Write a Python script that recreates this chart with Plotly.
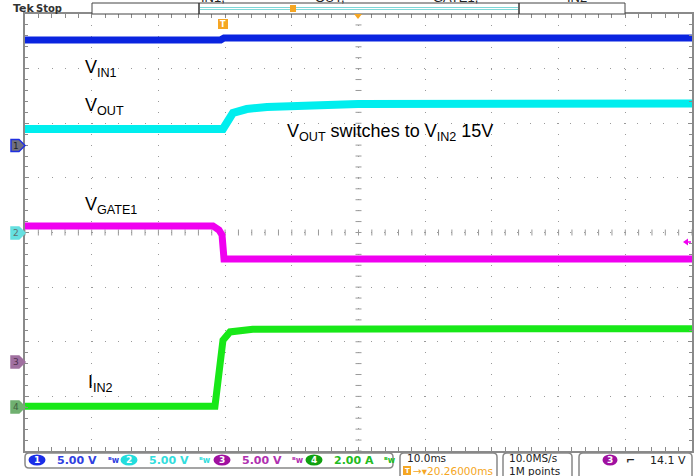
import plotly.graph_objects as go

W, H = 700, 476
PL, PR, PT, PB = 25, 692, 14, 451  # plot area in pixels

# ---------------- data (time in ms relative to trigger) ----------------
T_MIN, T_MAX = -29.74, 70.26

vin1_t = [-29.74, -0.4, 0.1, 70.26]
vin1_v = [9.63, 9.63, 9.81, 9.81]           # V, 5 V/div

vout_t = [-29.74, -0.06, 1.44, 3.5, 6.54, 13.4, 20.2, 70.26]
vout_v = [9.48, 9.48, 10.94, 11.3, 11.49, 11.68, 11.77, 11.8]   # V, 5 V/div

vgate_t = [-29.74, -1.56, -0.66, -0.2, 0.1, 70.26]
vgate_v = [12.45, 12.45, 12.08, 11.62, 9.42, 9.42]   # V, 5 V/div

iin2_t = [-29.74, -1.26, -0.06, 0.99, 4.4, 20.5, 70.26]
iin2_a = [0.04, 0.04, 2.46, 2.76, 2.86, 2.88, 2.88]  # A, 2 A/div

ch_labels = ["5.00 V", "5.00 V", "5.00 V", "2.00 A"]

# channel scale ranges (8 divisions, ground offsets of each channel)
ch1_range = [-28, 12]
ch2_range = [-20, 20]
ch3_range = [-8.15, 31.85]
ch4_range = [-1.6, 14.4]

BLUE = "#0a24e0"
CYAN = "#00eeee"
MAG = "#f000f0"
GREEN = "#18e818"
ORANGE = "#f5a623"

def fx(x):
    return (x - PL) / (PR - PL)

def fy(y):
    return (PB - y) / (PB - PT)

fig = go.Figure()
fig.add_trace(go.Scatter(x=vin1_t, y=vin1_v, yaxis="y2", mode="lines",
                         line=dict(color=BLUE, width=7), hoverinfo="skip"))
fig.add_trace(go.Scatter(x=vout_t, y=vout_v, yaxis="y", mode="lines",
                         line=dict(color=CYAN, width=8), hoverinfo="skip"))
fig.add_trace(go.Scatter(x=vgate_t, y=vgate_v, yaxis="y3", mode="lines",
                         line=dict(color=MAG, width=7), hoverinfo="skip"))
fig.add_trace(go.Scatter(x=iin2_t, y=iin2_a, yaxis="y4", mode="lines",
                         line=dict(color=GREEN, width=7), hoverinfo="skip"))

shapes = []
ann = []
GRID = "#9a9a9a"

# center crosshair ticks
xc = fx(358.5)
yc = fy(232.5)
for i in range(51):
    xp = PL + i * (PR - PL) / 50
    shapes.append(dict(type="line", xref="paper", yref="paper", layer="below",
                       x0=fx(xp), x1=fx(xp), y0=yc - 3 / 437, y1=yc + 3 / 437,
                       line=dict(color=GRID, width=1)))
for i in range(41):
    yp = PT + i * (PB - PT) / 40
    shapes.append(dict(type="line", xref="paper", yref="paper", layer="below",
                       x0=xc - 3 / 667, x1=xc + 3 / 667, y0=fy(yp), y1=fy(yp),
                       line=dict(color=GRID, width=1)))

# ---- text labels in chart ----
LBL = dict(family="Liberation Sans, Arial", size=18, color="black")
def label(x, y, text):
    ann.append(dict(xref="paper", yref="paper", x=fx(x), y=fy(y), text=text,
                    showarrow=False, xanchor="left", yanchor="middle", font=LBL))

label(83, 68, "V<sub>IN1</sub>")
label(83, 107, "V<sub>OUT</sub>")
label(285, 132, "V<sub>OUT</sub> switches to V<sub>IN2</sub> 15V")
label(83, 205, "V<sub>GATE1</sub>")
label(86, 383, "I<sub>IN2</sub>")

# ---- top bar ----
SF = "DejaVu Sans"
ann.append(dict(xref="paper", yref="paper", x=fx(11), y=fy(8), text="<b>Tek</b>",
                showarrow=False, xanchor="left", yanchor="middle",
                font=dict(family=SF, size=11, color="#333")))
ann.append(dict(xref="paper", yref="paper", x=fx(34), y=fy(8), text="<b>Stop</b>",
                showarrow=False, xanchor="left", yanchor="middle",
                font=dict(family=SF, size=10, color="#333")))
shapes.append(dict(type="rect", xref="paper", yref="paper", x0=fx(92), x1=fx(625),
                   y0=fy(14), y1=fy(3), line=dict(color="#444", width=1), fillcolor="white"))
for xd in (199, 519):
    shapes.append(dict(type="line", xref="paper", yref="paper", x0=fx(xd), x1=fx(xd),
                       y0=fy(14), y1=fy(3), line=dict(color="#333", width=1.5)))
shapes.append(dict(type="line", xref="paper", yref="paper", x0=fx(200), x1=fx(518),
                   y0=fy(8.5), y1=fy(8.5), line=dict(color="#7fd8d8", width=3)))
shapes.append(dict(type="line", xref="paper", yref="paper", x0=fx(200), x1=fx(518),
                   y0=fy(8.5), y1=fy(8.5), line=dict(color="white", width=1)))
# clipped top labels
for xt, tt in [(213, "IN1,"), (330, "OUT,"), (455, "GATE1,"), (577, "IN2")]:
    ann.append(dict(xref="paper", yref="paper", x=fx(xt), y=fy(-3), text=tt,
                    showarrow=False, xanchor="center", yanchor="middle",
                    font=dict(family="Liberation Sans, Arial", size=13, color="#222")))
for xt in (253, 410, 500):
    ann.append(dict(xref="paper", yref="paper", x=fx(xt), y=fy(-1), text="~",
                    showarrow=False, xanchor="center", yanchor="middle",
                    font=dict(family=SF, size=10, color="#666")))
# orange markers
shapes.append(dict(type="rect", xref="paper", yref="paper", x0=fx(290), x1=fx(296),
                   y0=fy(12), y1=fy(5), fillcolor=ORANGE, line=dict(width=0)))
shapes.append(dict(type="path", xref="paper", yref="paper",
                   path=f"M {fx(354)} {fy(14)} L {fx(362)} {fy(14)} L {fx(358)} {fy(19)} Z",
                   fillcolor=ORANGE, line=dict(width=0)))
shapes.append(dict(type="rect", xref="paper", yref="paper", x0=fx(218), x1=fx(228),
                   y0=fy(29), y1=fy(19), fillcolor=ORANGE, line=dict(width=0)))
ann.append(dict(xref="paper", yref="paper", x=fx(223), y=fy(24), text="<b>T</b>",
                showarrow=False, xanchor="center", yanchor="middle",
                font=dict(family=SF, size=8, color="white")))

# ---- channel ground markers (left) ----
def gmarker(y, fill, edge, num, tcol):
    path = (f"M {fx(11)} {fy(y-6)} L {fx(19)} {fy(y-6)} L {fx(25)} {fy(y)} "
            f"L {fx(19)} {fy(y+6)} L {fx(11)} {fy(y+6)} Z")
    shapes.append(dict(type="path", xref="paper", yref="paper", path=path,
                       fillcolor=fill, line=dict(color=edge, width=1.5)))
    ann.append(dict(xref="paper", yref="paper", x=fx(16), y=fy(y), text=num,
                    showarrow=False, xanchor="center", yanchor="middle",
                    font=dict(family=SF, size=9, color=tcol)))

gmarker(145.5, "#707080", "#2030e0", "1", "#222")
gmarker(233, "#66e0e0", "#66e0e0", "2", "#607070")
gmarker(362, "#a070a0", "#a070a0", "3", "#503050")
gmarker(407, "#70b070", "#70b070", "4", "#406040")
# trigger level arrow (right)
shapes.append(dict(type="path", xref="paper", yref="paper",
                   path=f"M {fx(683)} {fy(242)} L {fx(688)} {fy(238.5)} L {fx(688)} {fy(245.5)} Z",
                   fillcolor=MAG, line=dict(width=0)))
shapes.append(dict(type="line", xref="paper", yref="paper", x0=fx(686), x1=fx(691),
                   y0=fy(242), y1=fy(242), line=dict(color=MAG, width=1.5)))

# ---- bottom status bar ----
def rbox(x0, x1, y0, y1):
    r = 4
    p = (f"M {fx(x0 + r)} {fy(y0)} L {fx(x1 - r)} {fy(y0)} Q {fx(x1)} {fy(y0)} {fx(x1)} {fy(y0 + r)} "
         f"L {fx(x1)} {fy(y1 - r)} Q {fx(x1)} {fy(y1)} {fx(x1 - r)} {fy(y1)} "
         f"L {fx(x0 + r)} {fy(y1)} Q {fx(x0)} {fy(y1)} {fx(x0)} {fy(y1 - r)} "
         f"L {fx(x0)} {fy(y0 + r)} Q {fx(x0)} {fy(y0)} {fx(x0 + r)} {fy(y0)} Z")
    shapes.append(dict(type="path", xref="paper", yref="paper", path=p,
                       fillcolor="white", line=dict(color="#888", width=1.5)))

rbox(25, 393, 453, 468)
rbox(400, 497, 453, 480)
rbox(503, 572, 453, 480)
rbox(579, 692, 453, 480)

def badge(xc_, yc_, col, num, w=17):
    shapes.append(dict(type="circle", xref="paper", yref="paper",
                       x0=fx(xc_ - w / 2), x1=fx(xc_ + w / 2), y0=fy(yc_ + 5.5), y1=fy(yc_ - 5.5),
                       fillcolor=col, line=dict(width=0)))
    ann.append(dict(xref="paper", yref="paper", x=fx(xc_), y=fy(yc_), text=f"<b>{num}</b>",
                    showarrow=False, xanchor="center", yanchor="middle",
                    font=dict(family=SF, size=9, color="white")))

def stext(x, y, text, col, size=11, anchor="left"):
    ann.append(dict(xref="paper", yref="paper", x=fx(x), y=fy(y), text=text,
                    showarrow=False, xanchor=anchor, yanchor="middle",
                    font=dict(family=SF, size=size, color=col)))

badge(37, 460, "#1a2ee8", "1")
stext(55, 460, f"<b>{ch_labels[0]}</b>", "#3040e0")
stext(106, 460, "<b>ᴮw</b>", "#3040e0", 8)
badge(129, 460, "#22dddd", "2")
stext(147, 460, f"<b>{ch_labels[1]}</b>", "#33dddd")
stext(197, 460, "<b>ᴮw</b>", "#33dddd", 8)
badge(222, 460, "#a010a0", "3")
stext(240, 460, f"<b>{ch_labels[2]}</b>", "#b030b0")
stext(290, 460, "<b>ᴮw</b>", "#b030b0", 8)
badge(314, 460, "#10a010", "4")
stext(332, 460, f"<b>{ch_labels[3]}</b>", "#22bb22")
stext(382, 460, "<b>ᴮw</b>", "#22bb22", 8)

stext(405, 458.5, "10.0ms", "#222", 10.5)
shapes.append(dict(type="rect", xref="paper", yref="paper", x0=fx(403), x1=fx(411),
                   y0=fy(475), y1=fy(466), fillcolor=ORANGE, line=dict(width=0)))
stext(407, 470.5, "<b>T</b>", "white", 7, "center")
stext(411, 470.5, "→▾20.26000ms", ORANGE, 10.5)
stext(507, 458.5, "10.0MS/s", "#222", 10.5)
stext(507, 470.5, "1M points", "#222", 10.5)
badge(610, 460, "#a010a0", "3", 15)
stext(624, 460, "<b>⌐</b>", "#222", 11)
stext(688, 460, "14.1 V", "#222", 11, "right")

axis_common = dict(showticklabels=False, zeroline=False, showline=True, linecolor="#8a8a8a",
                   linewidth=1.5, mirror="allticks", ticks="inside", ticklen=4,
                   tickcolor="#8a8a8a", showgrid=True, gridcolor=GRID, gridwidth=1.2)

fig.update_layout(
    width=W, height=H,
    margin=dict(l=PL, r=W - PR, t=PT, b=H - PB, pad=0, autoexpand=False),
    paper_bgcolor="white", plot_bgcolor="white",
    showlegend=False,
    xaxis=dict(range=[T_MIN, T_MAX], tick0=T_MIN, dtick=10, griddash="1px,9.9px",
               minor=dict(ticks="inside", ticklen=3, dtick=2, tick0=T_MIN, tickcolor="#8a8a8a"),
               **axis_common),
    yaxis=dict(range=ch2_range, tick0=0, dtick=5, griddash="1px,12.3px",
               minor=dict(ticks="inside", ticklen=3, dtick=1, tick0=0, tickcolor="#8a8a8a"),
               **axis_common),
    yaxis2=dict(range=ch1_range, overlaying="y", visible=False),
    yaxis3=dict(range=ch3_range, overlaying="y", visible=False),
    yaxis4=dict(range=ch4_range, overlaying="y", visible=False),
    shapes=shapes,
    annotations=ann,
)

fig.write_html("out.html", config={"displayModeBar": False},
               post_script="document.body.style.margin='0';document.body.style.overflow='hidden';")
